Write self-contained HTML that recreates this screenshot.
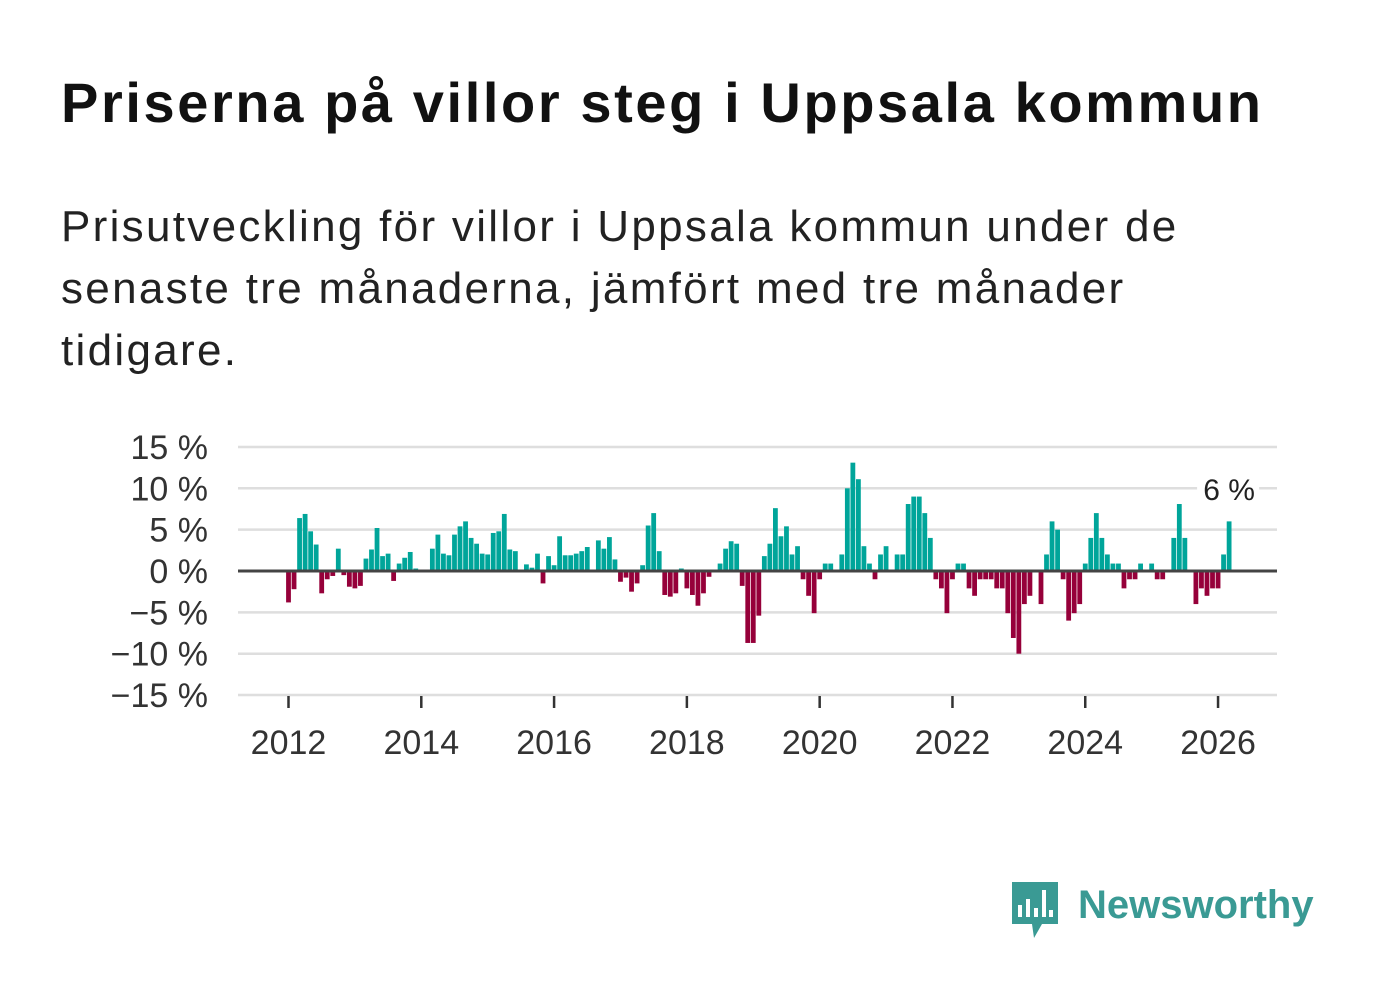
<!DOCTYPE html>
<html><head><meta charset="utf-8">
<style>
body{margin:0;background:#fff;width:1382px;height:999px;overflow:hidden;font-family:"Liberation Sans",sans-serif;color:#111}
#title{position:absolute;left:61px;top:70px;font-size:56px;font-weight:bold;margin:0;letter-spacing:2.6px;white-space:nowrap}
#sub{position:absolute;left:61px;top:196px;font-size:44px;line-height:62px;width:1300px;margin:0;color:#222;letter-spacing:2.3px;white-space:nowrap}
svg{position:absolute;left:0;top:0}
</style></head><body>
<h1 id="title">Priserna på villor steg i Uppsala kommun</h1>
<p id="sub">Prisutveckling för villor i Uppsala kommun under de<br>senaste tre månaderna, jämfört med tre månader<br>tidigare.</p>
<svg id="chart" width="1382" height="999"></svg>
<script>
const startYear = 2012;
const values = [-3.8,-2.2,6.4,6.9,4.8,3.2,-2.7,-1.0,-0.6,2.7,-0.5,-1.9,
-2.1,-1.8,1.5,2.6,5.2,1.8,2.1,-1.2,0.9,1.6,2.3,0.3,
0,0,2.7,4.4,2.1,1.9,4.4,5.4,6.0,4.0,3.3,2.1,
2.0,4.6,4.8,6.9,2.6,2.4,0,0.8,0.4,2.1,-1.5,1.8,
0.7,4.2,1.9,1.9,2.1,2.4,2.9,0,3.7,2.7,4.1,1.4,
-1.3,-0.8,-2.5,-1.5,0.7,5.5,7.0,2.4,-2.9,-3.1,-2.7,0.3,
-2.1,-2.9,-4.2,-2.7,-0.7,0,0.9,2.7,3.6,3.3,-1.8,-8.7,
-8.7,-5.4,1.8,3.3,7.6,4.2,5.4,2.0,3.0,-1.0,-3.0,-5.1,
-1.0,0.9,0.9,0,2.0,10.0,13.1,11.1,3.0,0.9,-1.0,2.0,
3.0,0,2.0,2.0,8.1,9.0,9.0,7.0,4.0,-1.0,-2.1,-5.1,
-1.0,0.9,0.9,-2.1,-3.0,-1.0,-1.0,-1.0,-2.1,-2.1,-5.1,-8.1,
-10.0,-4.0,-3.0,0,-4.0,2.0,6.0,5.0,-1.0,-6.0,-5.1,-4.0,
0.9,4.0,7.0,4.0,2.0,0.9,0.9,-2.1,-1.0,-1.0,0.9,0,
0.9,-1.0,-1.0,0,4.0,8.1,4.0,0,-4.0,-2.1,-3.0,-2.1,
-2.1,2.0,6.0];
const yTicks = [15,10,5,0,-5,-10,-15];
const xTickYears = [2012,2014,2016,2018,2020,2022,2024,2026];
const lastLabel = "6 %";

const svg = document.getElementById('chart');
const NS = 'http://www.w3.org/2000/svg';
const x0 = 288.5, monthW = 5.533, y0 = 571, pxPer = 8.27;
function xScale(i){return x0 + i*monthW;}
function yScale(v){return y0 - v*pxPer;}
function mk(tag, attrs){const e=document.createElementNS(NS,tag);for(const k in attrs)e.setAttribute(k,attrs[k]);svg.appendChild(e);return e;}

yTicks.forEach(t=>{
  if(t!==0){
    const g=mk('line',{x1:238,x2:1277,y1:yScale(t),y2:yScale(t),stroke:'#dedede','stroke-width':2.5});
    
    
  }
  const lb=mk('text',{x:208,y:yScale(t)+12,'text-anchor':'end','font-size':34,fill:'#333','font-family':'Liberation Sans, sans-serif'});
  lb.textContent=(t<0?'\u2212'+(-t):t)+' %';
  
  
});
values.forEach((v,i)=>{
  const x=xScale(i), y=yScale(Math.max(v,0)), h=Math.abs(v)*pxPer;
  const r=mk('rect',{x:x-2.4,y:y,width:4.8,height:h,fill:v>=0?'#00a59a':'#96003a'});
  
  
});
const zl=mk('line',{x1:238,x2:1277,y1:y0,y2:y0,stroke:'#444','stroke-width':3});


xTickYears.forEach(yr=>{
  const x=xScale((yr-startYear)*12);
  const tk=mk('line',{x1:x,x2:x,y1:696,y2:708,stroke:'#333','stroke-width':2.5});
  
  
  const lb=mk('text',{x:x,y:754,'text-anchor':'middle','font-size':34,fill:'#333','font-family':'Liberation Sans, sans-serif'});
  lb.textContent=yr;
  
  
});
const li=values.length-1;
const bg=mk('rect',{x:xScale(li)-32,y:472,width:62,height:34,fill:'#fff'});


const vl=mk('text',{x:xScale(li),y:500,'text-anchor':'middle','font-size':30,fill:'#222','font-family':'Liberation Sans, sans-serif'});
vl.textContent=lastLabel;


</script>
<svg width="1382" height="999" style="pointer-events:none">
  <path d="M1012 882 h46 v42 h-16 l-8 14 l-2 -14 h-20 z" fill="#3a9a94"/>
  <rect x="1018" y="905" width="4" height="12" fill="#fff"/>
  <rect x="1026" y="899" width="4" height="18" fill="#fff"/>
  <rect x="1034" y="908" width="4" height="9" fill="#fff"/>
  <rect x="1042" y="890" width="4" height="27" fill="#fff"/>
  <rect x="1049" y="910" width="4" height="7" fill="#fff"/>
  <text x="1078" y="918" font-size="40" font-weight="bold" fill="#3a9a94" font-family="Liberation Sans, sans-serif">Newsworthy</text>
</svg>
</body></html>
